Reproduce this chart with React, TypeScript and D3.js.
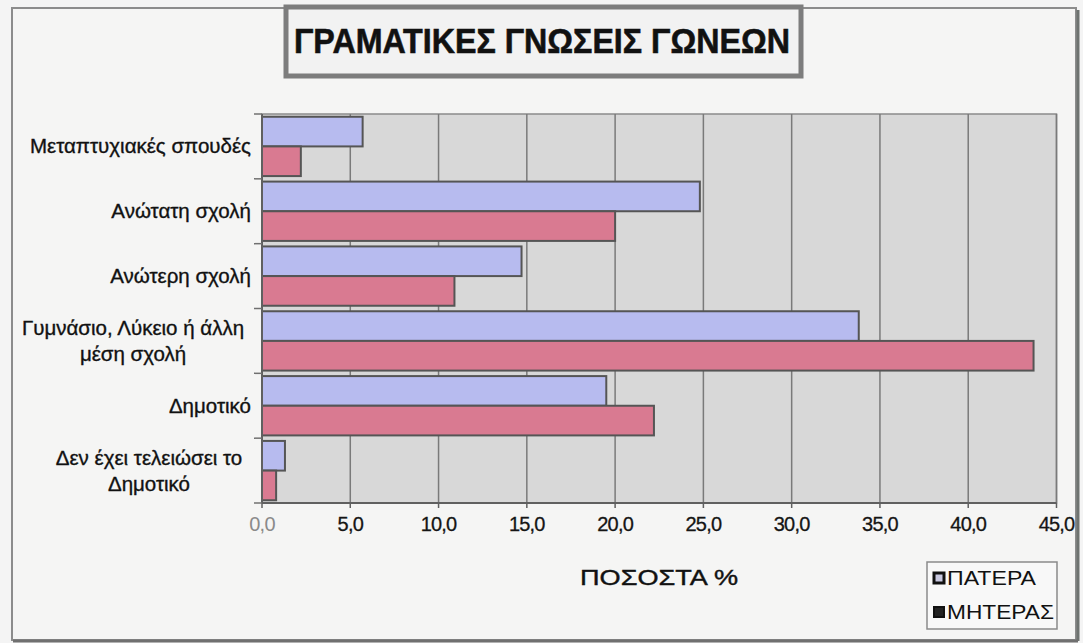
import React from "react";
import * as d3 from "d3";

const categories: string[][] = [
  ["Μεταπτυχιακές σπουδές"],
  ["Ανώτατη σχολή"],
  ["Ανώτερη σχολή"],
  ["Γυμνάσιο, Λύκειο ή άλλη", "μέση σχολή"],
  ["Δημοτικό"],
  ["Δεν έχει τελειώσει το", "Δημοτικό"],
];
const fatherValues = [5.7, 24.8, 14.7, 33.8, 19.5, 1.3];
const motherValues = [2.2, 20.0, 10.9, 43.7, 22.2, 0.8];
const xTicks = [0, 5, 10, 15, 20, 25, 30, 35, 40, 45];
const seriesNames = ["ΠΑΤΕΡΑ", "ΜΗΤΕΡΑΣ"];
const title = "ΓΡΑΜΑΤΙΚΕΣ ΓΝΩΣΕΙΣ ΓΩΝΕΩΝ";
const xTitle = "ΠΟΣΟΣΤΑ %";

const W = 1083;
const H = 643;
const plot = { left: 262, right: 1056.5, top: 114, bottom: 503 };
const FONT = "'Liberation Sans', Arial, Helvetica, sans-serif";
const fatherFill = "#b7bbef";
const motherFill = "#d97a91";
const barStroke = "#555";

export default function App() {
  const x = d3.scaleLinear().domain([0, 45]).range([plot.left, plot.right]);
  const idx = categories.map((_, i) => String(i));
  const y = d3
    .scaleBand<string>()
    .domain(idx)
    .range([plot.top, plot.bottom])
    .paddingInner(0.085)
    .paddingOuter(0.0425);
  const inner = d3.scaleBand<string>().domain(["f", "m"]).range([0, y.bandwidth()]);
  const fmt = (v: number) => d3.format(".1f")(v).replace(".", ",");
  const step = y.step();

  return (
    <svg width={W} height={H} style={{ position: "absolute", left: 0, top: 0, display: "block" }}>
      <rect x={0} y={0} width={W} height={H} fill="#f4f4f4" />
      {/* outer frame */}
      <rect x={12} y={8} width={1064} height={632} fill="#f5f5f4" stroke="#8c8c8c" strokeWidth={2} />
      <line x1={1078} y1={10} x2={1078} y2={641} stroke="#6e7370" strokeWidth={3} />
      <line x1={13} y1={641} x2={1078} y2={641} stroke="#707070" strokeWidth={3} />

      {/* title box */}
      <rect x={286} y={7} width={515} height={69} fill="#f2f2f2" stroke="#7d7d7d" strokeWidth={5} />
      <text
        x={294}
        y={53}
        fontFamily={FONT}
        fontWeight="bold"
        fontSize={35}
        fill="#111"
        stroke="#111"
        strokeWidth={0.6}
        textLength={496}
        lengthAdjust="spacingAndGlyphs"
      >
        {title}
      </text>

      {/* plot area */}
      <rect
        x={plot.left}
        y={plot.top}
        width={plot.right - plot.left}
        height={plot.bottom - plot.top}
        fill="#d8d8d8"
        stroke="#8a8a8a"
        strokeWidth={1.5}
      />
      {xTicks.slice(1).map((t) => (
        <line key={t} x1={x(t)} x2={x(t)} y1={plot.top} y2={plot.bottom} stroke="#7a7a7a" strokeWidth={1.5} />
      ))}

      {/* bars */}
      {idx.map((k, i) => (
        <g key={k}>
          <rect
            x={x(0)}
            y={(y(k) as number) + (inner("f") as number)}
            width={x(fatherValues[i]) - x(0)}
            height={inner.bandwidth()}
            fill={fatherFill}
            stroke={barStroke}
            strokeWidth={2}
          />
          <rect
            x={x(0)}
            y={(y(k) as number) + (inner("m") as number)}
            width={x(motherValues[i]) - x(0)}
            height={inner.bandwidth()}
            fill={motherFill}
            stroke={barStroke}
            strokeWidth={2}
          />
        </g>
      ))}

      {/* axes */}
      <line x1={plot.left} x2={plot.right} y1={plot.bottom} y2={plot.bottom} stroke="#606060" strokeWidth={2} />
      <line x1={plot.left} x2={plot.left} y1={plot.top} y2={plot.bottom} stroke="#606060" strokeWidth={2} />
      {xTicks.map((t) => (
        <line key={"tk" + t} x1={x(t)} x2={x(t)} y1={plot.bottom} y2={plot.bottom + 5} stroke="#606060" strokeWidth={1.5} />
      ))}
      {d3.range(categories.length + 1).map((i) => (
        <line
          key={"yt" + i}
          x1={plot.left - 8}
          x2={plot.left}
          y1={plot.top + i * step}
          y2={plot.top + i * step}
          stroke="#707070"
          strokeWidth={1.5}
        />
      ))}
      {xTicks.map((t) => (
        <text
          key={"tl" + t}
          x={x(t)}
          y={531}
          textAnchor="middle"
          fontFamily={FONT}
          fontSize={20}
          letterSpacing={-0.8}
          fill={t === 0 ? "#8a8a8a" : "#151515"}
          stroke={t === 0 ? "none" : "#151515"}
          strokeWidth={0.3}
        >
          {fmt(t)}
        </text>
      ))}

      {/* category labels */}
      {categories.map((lines, i) => {
        const cy = (y(String(i)) as number) + y.bandwidth() / 2;
        const lh = 26;
        const y0 = cy - ((lines.length - 1) * lh) / 2 + 7;
        const blockW = i === 3 ? 236 : 204;
        return (
          <g key={"cl" + i}>
            {lines.map((ln, j) => (
              <text
                key={j}
                x={lines.length > 1 ? 251 - blockW / 2 : 251}
                y={y0 + j * lh}
                textAnchor={lines.length > 1 ? "middle" : "end"}
                fontFamily={FONT}
                fontSize={20.5}
                fill="#111"
                stroke="#111"
                strokeWidth={0.35}
              >
                {ln}
              </text>
            ))}
          </g>
        );
      })}

      {/* x title */}
      <text
        x={580}
        y={585}
        fontFamily={FONT}
        fontSize={22}
        fill="#111"
        stroke="#111"
        strokeWidth={0.4}
        textLength={158}
        lengthAdjust="spacingAndGlyphs"
      >
        {xTitle}
      </text>

      {/* legend */}
      <rect x={927} y={562} width={130} height={67} fill="#f8f8f8" stroke="#8a8a8a" strokeWidth={1.5} />
      <rect x={934} y={573} width={10} height={10} fill="#c8c8e0" stroke="#111" strokeWidth={3} />
      <text x={947} y={585} fontFamily={FONT} fontSize={20} fill="#111" textLength={89} lengthAdjust="spacingAndGlyphs">
        {seriesNames[0]}
      </text>
      <rect x={934} y={607} width={10} height={10} fill="#222" stroke="#111" strokeWidth={2} />
      <text x={947} y={619} fontFamily={FONT} fontSize={20} fill="#111" textLength={107} lengthAdjust="spacingAndGlyphs">
        {seriesNames[1]}
      </text>
    </svg>
  );
}
